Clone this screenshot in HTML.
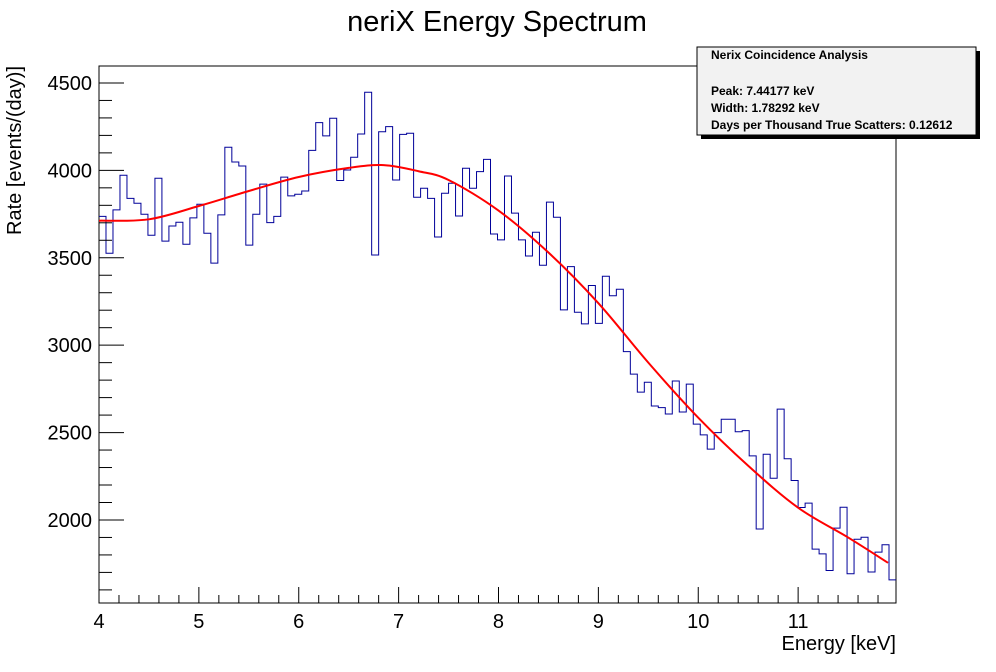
<!DOCTYPE html>
<html><head><meta charset="utf-8"><style>
body{margin:0;background:#fff;}
svg{display:block;font-family:"Liberation Sans",sans-serif;}
</style></head><body>
<svg id="c" width="996" height="672">
<text x="497" y="31" font-size="29" text-anchor="middle">neriX Energy Spectrum</text>
<g id="plot"></g>
<text x="896" y="650" font-size="20" text-anchor="end">Energy [keV]</text>
<text transform="translate(21,66) rotate(-90)" font-size="20" text-anchor="end">Rate [events/(day)]</text>
<g>
<rect x="701" y="51" width="279" height="88" fill="#000"/>
<rect x="697" y="47" width="279" height="88" fill="#f2f2f2" stroke="#000" stroke-width="1"/>
<g font-size="12" font-weight="bold">
<text x="711" y="59">Nerix Coincidence Analysis</text>
<text x="711" y="95">Peak: 7.44177 keV</text>
<text x="711" y="112">Width: 1.78292 keV</text>
<text x="711" y="129">Days per Thousand True Scatters: 0.12612</text>
</g></g>
</svg>
<script>
const binValues=[3737,3526,3774,3972,3840,3812,3749,3629,3955,3595,3682,3703,3577,3728,3806,3640,3469,3745,4132,4048,4025,3572,3749,3921,3701,3737,3961,3854,3863,3882,4114,4273,4197,4298,3942,4002,4075,4208,4447,3516,4221,4250,3945,4206,4212,3846,3898,3840,3619,3869,3926,3739,4012,3898,3993,4063,3636,3602,3968,3755,3602,3510,3646,3457,3818,3732,3202,3449,3188,3122,3341,3125,3394,3283,3320,2963,2834,2731,2788,2652,2643,2606,2795,2618,2777,2548,2487,2405,2500,2576,2576,2505,2511,2367,1948,2376,2239,2634,2350,2226,2071,2096,1833,1806,1711,1953,2073,1692,1890,1901,1702,1816,1858,1657];
const fitX=[4,4.5,5,5.5,6,6.5,6.85,7.2,7.5,8,8.5,9,9.5,10,10.5,11,11.5,11.9];
const fitY=[3712,3720,3796,3882,3962,4014,4030,3995,3945,3770,3530,3240,2900,2585,2310,2070,1900,1755];
const xTicks=[4,5,6,7,8,9,10,11];
const yTicks=[2000,2500,3000,3500,4000,4500];
const X0=4,BW=0.07,XMAX=X0+BW*binValues.length,YMIN=1525,YMAX=4597;
const L=99,R=896,T=66,B=603;
const sx=v=>L+(v-X0)/(XMAX-X0)*(R-L);
const sy=v=>B-(v-YMIN)/(YMAX-YMIN)*(B-T);
const NS='http://www.w3.org/2000/svg';
const g=document.getElementById('plot');
function mk(t,a,p){const e=document.createElementNS(NS,t);for(const k in a)e.setAttribute(k,a[k]);(p||g).appendChild(e);return e;}
const frame=mk('rect',{x:L,y:T,width:R-L,height:B-T,fill:'none',stroke:'#000','stroke-width':1});


let d='M'+sx(X0)+','+sy(binValues[0]);
binValues.forEach((v,i)=>{d+=' H'+sx(X0+BW*i)+' V'+sy(v)+' H'+sx(X0+BW*(i+1));});
const h=mk('path',{d:d,fill:'none',stroke:'#000099','stroke-width':1});


const pts=fitX.map((x,i)=>[sx(x),sy(fitY[i])]);
let fd='M'+pts[0][0]+','+pts[0][1];
for(let i=0;i<pts.length-1;i++){const p0=pts[Math.max(0,i-1)],p1=pts[i],p2=pts[i+1],p3=pts[Math.min(pts.length-1,i+2)];
fd+=' C'+(p1[0]+(p2[0]-p0[0])/6)+','+(p1[1]+(p2[1]-p0[1])/6)+' '+(p2[0]-(p3[0]-p1[0])/6)+','+(p2[1]-(p3[1]-p1[1])/6)+' '+p2[0]+','+p2[1];}
const f=mk('path',{d:fd,fill:'none',stroke:'#ff0000','stroke-width':2});


for(let v=4;v<=XMAX+1e-9;v+=0.2){const vv=Math.round(v*10)/10;const maj=Math.abs(vv-Math.round(vv))<1e-6;
const t=mk('line',{x1:sx(vv),x2:sx(vv),y1:B,y2:B-(maj?16:8),stroke:'#000'});

}
xTicks.forEach(v=>{const t=mk('text',{x:sx(v),y:628,'font-size':20,'text-anchor':'middle'});t.textContent=v;

});
for(let v=1600;v<=YMAX;v+=100){const maj=v%500===0;
const t=mk('line',{x1:L,x2:L+(maj?25:13),y1:sy(v),y2:sy(v),stroke:'#000'});

}
yTicks.forEach(v=>{const t=mk('text',{x:92,y:sy(v)+7,'font-size':20,'text-anchor':'end'});t.textContent=v;

});
</script>
</body></html>
